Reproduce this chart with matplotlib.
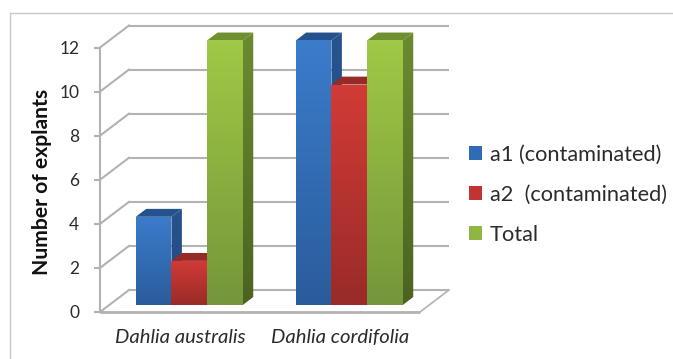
import numpy as np
import matplotlib
matplotlib.use("Agg")
import matplotlib.pyplot as plt
from matplotlib.colors import LinearSegmentedColormap
from matplotlib.patches import Patch, Polygon

categories = ["Dahlia australis", "Dahlia cordifolia"]
series_names = ["a1 (contaminated)", "a2  (contaminated)", "Total"]
a1_values = [4, 12]
a2_values = [2, 10]
total_values = [12, 12]
y_ticks = [0, 2, 4, 6, 8, 10, 12]

# top and bottom shades for each series: front face, side face, top face
front_shades = [("#3b7ccb", "#2a5c9c"), ("#d23b37", "#992b28"), ("#a0c945", "#75963a")]
side_shades = [("#26548f", "#234a7c"), ("#8e2826", "#7e2422"), ("#6b8b30", "#4b6320")]
top_shades = ["#25528c", "#962a27", "#6f9030"]
legend_colors = ["#2f6cb5", "#c13431", "#8fb542"]
grid_color = "#b2b2b2"
text_color = "#2b2b2b"

plt.rcParams["font.family"] = ["Lato", "DejaVu Sans"]

W, H = 673, 359
fig = plt.figure(figsize=(W / 100, H / 100), dpi=100)
ax = fig.add_axes([100 / W, (H - 312) / H, 320 / W, 264.5 / H])
ax.set_xlim(-0.5, 1.5)
ax.set_ylim(0, 12)

# Full chart depth expressed in data units; the bars sit between two depths.
DEPTH_X = 29 / 160
DEPTH_Y = 22 / (264.5 / 12)
BAR_NEAR = 0.32
BAR_FAR = 0.68
BAR_WIDTH = 0.223


def shifted(x, y, depth):
    return x + DEPTH_X * depth, y + DEPTH_Y * depth


def gradient_fill(points, top, bottom, zorder):
    xs, ys = zip(*points)
    cmap = LinearSegmentedColormap.from_list("shade", [top, bottom])
    img = ax.imshow(np.linspace(0, 1, 128).reshape(-1, 1), cmap=cmap, aspect="auto",
                    extent=(min(xs), max(xs), min(ys), max(ys)), zorder=zorder,
                    interpolation="bilinear")
    # Faces rise above the value axis limit because of the depth shift
    img.set_clip_box(fig.bbox)
    img.set_clip_path(Polygon(points, closed=True, transform=ax.transData))


def draw_bar(center, value, series, zorder):
    x0, x1 = center - BAR_WIDTH / 2, center + BAR_WIDTH / 2
    near_l, near_b = shifted(x0, 0, BAR_NEAR)
    near_r, near_t = shifted(x1, value, BAR_NEAR)
    far_r, far_b = shifted(x1, 0, BAR_FAR)
    far_l, far_t = shifted(x0, value, BAR_FAR)
    gradient_fill([(near_r, near_b), (near_r, near_t), (far_r, far_t), (far_r, far_b)],
                  *side_shades[series], zorder)
    ax.add_patch(Polygon([(near_l, near_t), (near_r, near_t), (far_r, far_t), (far_l, far_t)],
                         closed=True, facecolor=top_shades[series], edgecolor="none",
                         zorder=zorder, clip_on=False))
    gradient_fill([(near_l, near_b), (near_r, near_b), (near_r, near_t), (near_l, near_t)],
                  *front_shades[series], zorder + 0.1)


# Back wall and side wall gridlines
x_left, x_right = ax.get_xlim()
for tick in y_ticks:
    bx0, by = shifted(x_left, tick, 1)
    bx1, _ = shifted(x_right, tick, 1)
    ax.plot([bx0, bx1], [by, by], color=grid_color, lw=1.5, zorder=1, clip_on=False,
            solid_capstyle="butt")
    ax.plot([x_left, bx0], [tick, by], color=grid_color, lw=1.5, zorder=1, clip_on=False)

# Floor outline on the right-hand side
fx, fy = shifted(x_right, 0, 1)
ax.plot([x_right, fx], [0, fy], color=grid_color, lw=1.2, zorder=1, clip_on=False)
ax.plot([x_left, x_right], [0, 0], color=grid_color, lw=2, zorder=2, clip_on=False,
        solid_capstyle="butt")

# Bars, left to right so each one overlaps its neighbour's side face
centers = np.arange(len(categories))
offsets = [-BAR_WIDTH, 0, BAR_WIDTH]
for group, center in enumerate(centers):
    for s, values in enumerate([a1_values, a2_values, total_values]):
        draw_bar(center + offsets[s], values[group], s, 3 + s + group * 4)

ax.set_xlim(x_left, x_right)
ax.set_ylim(0, 12)

for side in ("top", "right", "bottom"):
    ax.spines[side].set_visible(False)
ax.spines["left"].set_color(grid_color)
ax.spines["left"].set_linewidth(1.5)

ax.set_yticks(y_ticks)
ax.set_xticks(centers)
ax.set_xticklabels(categories, style="italic", fontsize=14.6, color=text_color)
ax.tick_params(axis="x", length=0, pad=12)
ax.tick_params(axis="y", length=4, width=1.5, color=grid_color, labelsize=12.5,
               labelcolor=text_color, pad=11)
ax.set_ylabel("Number of explants", fontsize=15.2, fontweight="bold", color="#111111")
ax.yaxis.set_label_coords(-0.15, 0.49)
ax.patch.set_visible(False)

handles = [Patch(facecolor=c, edgecolor="none") for c in legend_colors]
fig.legend(handles, series_names, loc="center left", bbox_to_anchor=(454 / W, (H - 195) / H),
           frameon=False, fontsize=15.7, labelcolor=text_color, handlelength=0.6,
           handleheight=0.6, handletextpad=0.33, labelspacing=0.92, borderpad=0.2)

# Thin frame along the top and left of the chart area
fig.add_artist(plt.Line2D([10 / W, 1], [(H - 13) / H] * 2, color="#c8c8c8", lw=1))
fig.add_artist(plt.Line2D([10 / W, 10 / W], [0, (H - 13) / H], color="#c8c8c8", lw=1))

fig.savefig("out.png", dpi=100)
